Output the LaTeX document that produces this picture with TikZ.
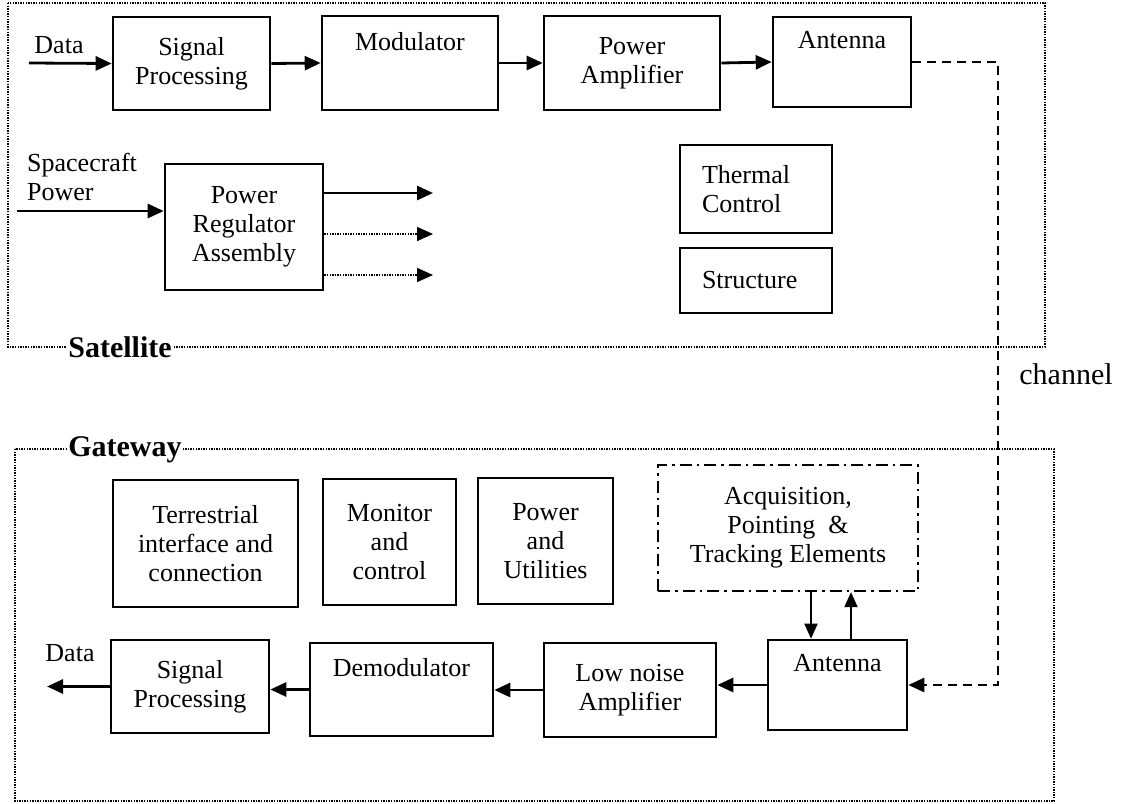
\documentclass[tikz,border=0pt]{standalone}
\usepackage{fontspec}
\setmainfont{Liberation Serif}
\usetikzlibrary{arrows.meta,calc}
\begin{document}
\begin{tikzpicture}[x=1pt,y=-1pt,
  every node/.style={font=\fontsize{26}{29}\selectfont},
  box/.style={draw, line width=2.6pt, inner sep=0pt, align=center},
  dashdotbox/.style={draw, line width=2.2pt, inner sep=0pt, align=center,
     dash pattern=on 12pt off 5pt on 2.5pt off 5pt},
  arr/.style={line width=2.8pt, -{Triangle[length=16pt,width=14pt]}},
  thinarr/.style={line width=1.8pt, -{Triangle[length=15pt,width=13pt]}},
  dotarr/.style={line width=1.5pt, dash pattern=on 1.4pt off 1.2pt, -{Triangle[length=16pt,width=14pt]}},
  frame/.style={line width=1.5pt, dash pattern=on 1.4pt off 1.2pt},
  chan/.style={line width=2.6pt, dash pattern=on 9pt off 6pt},
  grouplabel/.style={font=\fontsize{30}{32}\selectfont\bfseries, fill=white, inner sep=1pt}
]
\useasboundingbox (0,0) rectangle (1121,803);

% ---------- Satellite ----------
\draw[frame] (8,3) rectangle (1045,347);
\node[grouplabel] (satlbl) at (120,347) {Satellite};

\node[box, minimum width=157pt, minimum height=93pt] (ssp) at (191.5,63.5) {Signal\\Processing};
\node[box, minimum width=176pt, minimum height=94pt] (mod) at (410,63) {Modulator\\[6pt]\strut};
\node[box, minimum width=176pt, minimum height=94pt] (pa) at (632,63) {Power\\Amplifier};
\node[box, minimum width=138pt, minimum height=90pt] (sant) at (842,62) {Antenna\\[6pt]\strut};

\node[box, minimum width=158pt, minimum height=126pt] (prg) at (244,227) {Power\\Regulator\\Assembly};
\node[box, minimum width=152pt, minimum height=88pt, text width=108pt, align=left] (therm) at (756,189) {Thermal\\Control};
\node[box, minimum width=152pt, minimum height=65pt, text width=108pt, align=left] (struct) at (756,280.5) {Structure};

\node (sdata) at (59,45) {Data};
\coordinate (sdin) at (29,63);
\draw[arr] (sdin) -- (ssp.west);
\draw[arr] (ssp.east) -- (mod.west);
\draw[arr] (mod.east) -- (pa.west);
\draw[arr] (pa.east) -- (sant.west);

\node[anchor=west, align=left, inner sep=0pt] (scp) at (27,177) {Spacecraft\\Power};
\coordinate (spin) at (17,211);
\draw[arr] (spin) -- (spin -| prg.west);
\coordinate (o1) at (433,193);
\coordinate (o2) at (433,234);
\coordinate (o3) at (433,275);
\draw[arr] (o1 -| prg.east) -- (o1);
\draw[dotarr] (o2 -| prg.east) -- (o2);
\draw[dotarr] (o3 -| prg.east) -- (o3);

% ---------- channel ----------
\node (chlbl) at (1066,374) {\fontsize{30}{32}\selectfont channel};

% ---------- Gateway ----------
\draw[frame] (15,449) rectangle (1054,801);
\node[grouplabel] (gwlbl) at (125,450) {Gateway};

\node[box, minimum width=185pt, minimum height=127pt] (terr) at (205.5,543.5) {Terrestrial\\interface and\\connection};
\node[box, minimum width=133pt, minimum height=126pt] (mon) at (389.5,542) {Monitor\\and\\control};
\node[box, minimum width=135pt, minimum height=126pt] (pu) at (545.5,541) {Power\\and\\Utilities};
\node[dashdotbox, minimum width=260pt, minimum height=126pt] (acq) at (788,528) {Acquisition,\\Pointing~~\&\\Tracking Elements};

\node[box, minimum width=139pt, minimum height=90pt] (gant) at (837.5,685) {Antenna\\[6pt]\strut};
\node[box, minimum width=172pt, minimum height=94pt] (lna) at (630,690) {Low noise\\Amplifier};
\node[box, minimum width=183pt, minimum height=93pt] (demod) at (401.5,689.5) {Demodulator\\[6pt]\strut};
\node[box, minimum width=158pt, minimum height=93pt] (gsp) at (190,686.5) {Signal\\Processing};

\node (gdata) at (70,653) {Data};
\coordinate (gdout) at (47,690);
\draw[arr] (gant.west) -- (gant.west -| lna.east);
\draw[arr] (lna.west) -- (lna.west -| demod.east);
\draw[arr] (demod.west) -- (demod.west -| gsp.east);
\draw[arr] (gsp.west) -- (gsp.west -| gdout);

\coordinate (dn) at (811,0);
\coordinate (up) at (851,0);
\draw[thinarr] (acq.south -| dn) -- (gant.north -| dn);
\draw[thinarr] (gant.north -| up) -- (acq.south -| up);

% channel link
\coordinate (ch) at (998,0);
\draw[chan, -{Triangle[length=16pt,width=14pt]}] (sant.east) -- (sant.east -| ch) -- (ch |- gant.east) -- (gant.east);
\end{tikzpicture}
\end{document}
